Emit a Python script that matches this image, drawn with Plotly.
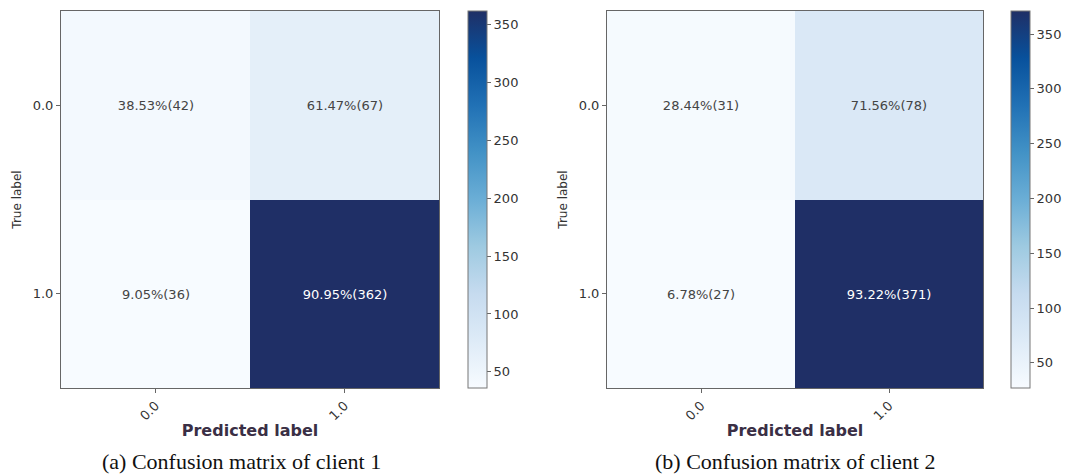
import plotly.graph_objects as go

labels = ["0.0", "1.0"]
counts1 = [[42, 67], [36, 362]]
pct1 = [[38.53, 61.47], [9.05, 90.95]]
counts2 = [[31, 78], [27, 371]]
pct2 = [[28.44, 71.56], [6.78, 93.22]]
captions = ["(a) Confusion matrix of client 1", "(b) Confusion matrix of client 2"]
cbar_ticks = [50, 100, 150, 200, 250, 300, 350]

blues = [
    [0.0, "#f7fbff"], [0.125, "#deebf7"], [0.25, "#c6dbef"], [0.375, "#9ecae1"],
    [0.5, "#6baed6"], [0.625, "#4292c6"], [0.75, "#2171b5"], [0.875, "#08519c"],
    [1.0, "#1f2f66"],
]

W, H = 1066, 476
def px(x): return x / W
def py(y): return 1 - y / H

fig = go.Figure()

panels = [
    dict(counts=counts1, pct=pct1, xd=[px(61), px(439)], cbx=px(468), ax="", cap_x=px(241)),
    dict(counts=counts2, pct=pct2, xd=[px(607), px(983)], cbx=px(1011), ax="2", cap_x=px(795)),
]

for i, p in enumerate(panels):
    z = p["counts"]
    flat = [v for row in z for v in row]
    text = [[f"{p['pct'][r][c]:.2f}%({z[r][c]})" for c in range(2)] for r in range(2)]
    fig.add_trace(go.Heatmap(
        z=z, x=[0, 1], y=[0, 1], text=text, texttemplate="%{text}",
        textfont=dict(family="DejaVu Sans", size=13),
        colorscale=blues, zmin=min(flat), zmax=max(flat),
        xaxis="x" + p["ax"], yaxis="y" + p["ax"],
        colorbar=dict(
            x=p["cbx"], xanchor="left", y=py(199.5), yanchor="middle",
            len=377, lenmode="pixels", thickness=19, thicknessmode="pixels",
            outlinewidth=1, outlinecolor="#777", xpad=0, ypad=0,
            tickvals=cbar_ticks, ticks="outside", ticklen=4, tickcolor="#666",
            tickfont=dict(family="DejaVu Sans", size=13, color="#333"),
        ),
        hoverinfo="skip",
    ))
    axis_common = dict(showline=True, mirror=True, linecolor="#666", linewidth=1,
                       ticks="outside", ticklen=4, tickcolor="#666", showgrid=False,
                       zeroline=False, automargin=False,
                       tickfont=dict(family="DejaVu Sans", size=13, color="#333"))
    fig.update_layout(**{
        "xaxis" + p["ax"]: dict(domain=p["xd"], anchor="y" + p["ax"], range=[-0.5, 1.5],
                                tickvals=[0, 1], ticktext=labels, tickangle=-45,
                                title=dict(text="<b>Predicted label</b>", standoff=2,
                                           font=dict(family="DejaVu Sans", size=16, color="#3a2f45")),
                                **axis_common),
        "yaxis" + p["ax"]: dict(domain=[py(388), py(11)], anchor="x" + p["ax"], range=[1.5, -0.5],
                                tickvals=[0, 1], ticktext=labels,
                                title=dict(text="True label", standoff=8,
                                           font=dict(family="DejaVu Sans", size=12, color="#333")),
                                **axis_common),
    })
    fig.add_annotation(text=captions[i], x=p["cap_x"], y=py(461), xref="paper", yref="paper",
                       showarrow=False, xanchor="center", yanchor="middle",
                       font=dict(family="Liberation Serif", size=22, color="#111"))

fig.update_layout(width=W, height=H, margin=dict(l=0, r=0, t=0, b=0, autoexpand=False),
                  paper_bgcolor="white", plot_bgcolor="white", showlegend=False)

fig.write_html("out.html", config={"displayModeBar": False},
               post_script="document.body.style.margin='0';document.body.style.overflow='hidden';")
